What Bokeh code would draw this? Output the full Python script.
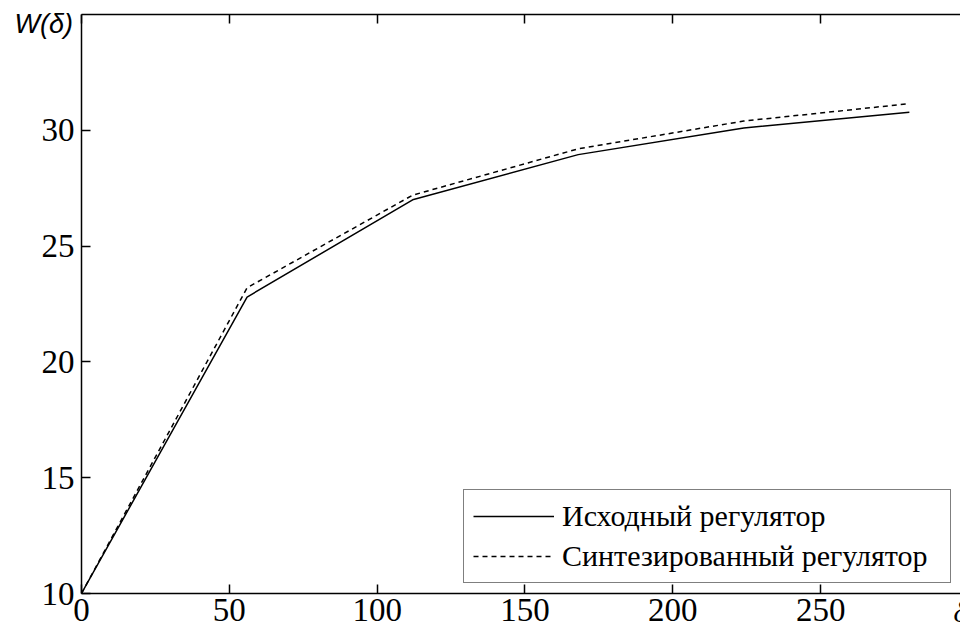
from bokeh.plotting import figure
from bokeh.models import Range1d, FixedTicker, LinearAxis, Legend, LegendItem, Title
from bokeh.embed import file_html
from bokeh.resources import INLINE

# Data
delta = [0, 56, 112, 168, 224, 280]
w_original = [10, 22.8, 27.0, 28.95, 30.1, 30.78]
w_synth = [10, 23.2, 27.2, 29.2, 30.4, 31.15]
x_ticks = [0, 50, 100, 150, 200, 250, 300]
y_ticks = [10, 15, 20, 25, 30]
label_original = "Исходный регулятор"
label_synth = "Синтезированный регулятор"
y_caption = "W(δ)"
x_caption = "δ"

SERIF = "Liberation Serif"

p = figure(width=960, height=629,
           x_range=Range1d(0, 297.3), y_range=Range1d(10, 35),
           output_backend="svg", toolbar_location=None,
           min_border_left=81, min_border_right=0,
           min_border_top=14, min_border_bottom=36)
p.outline_line_color = None
p.xgrid.visible = False
p.ygrid.visible = False
p.background_fill_color = "white"
p.border_fill_color = "white"

for ax in (p.xaxis[0], p.yaxis[0]):
    ax.axis_line_color = "black"
    ax.axis_line_width = 1.5
    ax.major_tick_line_color = "black"
    ax.major_tick_line_width = 1.5
    ax.major_tick_in = 9
    ax.major_tick_out = 0
    ax.minor_tick_line_color = None
    ax.major_label_text_font = SERIF
    ax.major_label_text_font_size = "33px"
    ax.major_label_text_color = "black"

p.xaxis[0].ticker = FixedTicker(ticks=x_ticks)
p.yaxis[0].ticker = FixedTicker(ticks=y_ticks)
p.xaxis[0].major_label_standoff = 5
p.yaxis[0].major_label_standoff = 7

top = LinearAxis(ticker=FixedTicker(ticks=x_ticks),
                 axis_line_color="black", axis_line_width=1.5,
                 major_tick_line_color="black", major_tick_line_width=1.5,
                 major_tick_in=9, major_tick_out=0, minor_tick_line_color=None,
                 major_label_text_font_size="0px", major_label_standoff=0)
p.add_layout(top, "above")

# axis captions as titles in the side panels (not clipped by the frame)
p.title = Title(text=y_caption, align="left", vertical_align="bottom",
                offset=-67, standoff=-48,
                text_font="Liberation Sans", text_font_style="italic",
                text_font_size="27px", text_color="black")
p.add_layout(Title(text=x_caption, align="left", vertical_align="top",
                   offset=872, standoff=-58,
                   text_font=SERIF, text_font_style="italic",
                   text_font_size="30px", text_color="black"), "below")

r1 = p.line(delta, w_original, line_color="black", line_width=1.5)
r2 = p.line(delta, w_synth, line_color="black", line_width=1.5, line_dash="5 4")

legend = Legend(items=[LegendItem(label=label_original, renderers=[r1]),
                       LegendItem(label=label_synth, renderers=[r2])],
                location=(382, 10),
                border_line_color="black", border_line_width=1.5,
                background_fill_color="white", background_fill_alpha=1,
                label_text_font=SERIF, label_text_font_size="30px",
                label_text_color="black",
                glyph_width=81, glyph_height=24, label_height=24,
                label_width=379,
                label_standoff=8, padding=9, spacing=6, margin=0)
p.add_layout(legend)

open("out.html", "w").write(file_html(p, INLINE))
